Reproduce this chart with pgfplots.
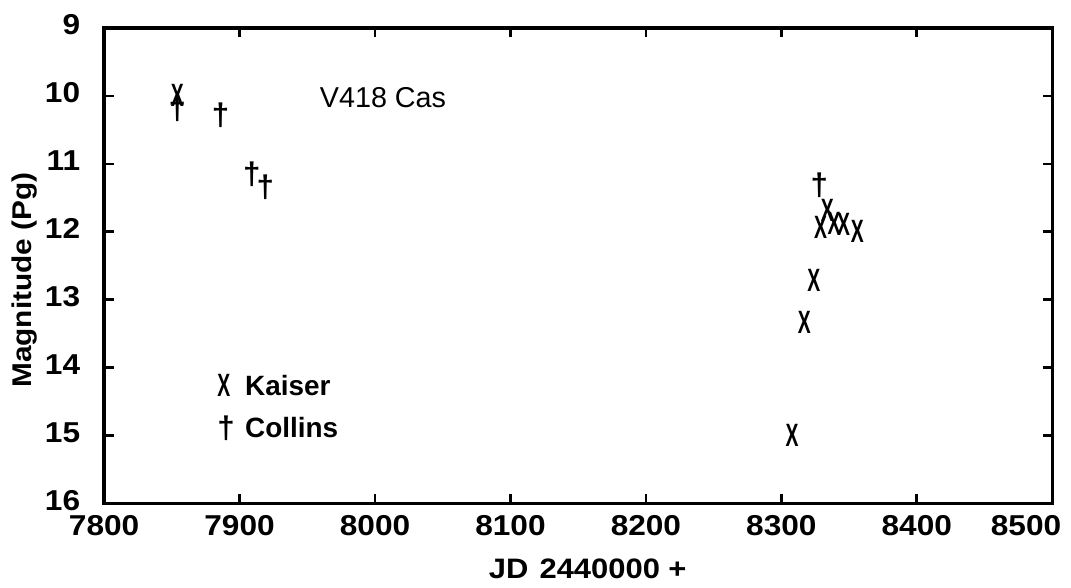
\documentclass[border=0pt]{standalone}
\usepackage{fontspec}
\setmainfont{Liberation Sans}
\newfontfamily\wide[FakeStretch=1.1]{Liberation Sans}
\usepackage{pgfplots}
\pgfplotsset{compat=1.18}

\pgfplotsset{
  kaiser/.style={only marks, mark=text, text mark as node=true,
    text mark={\scalebox{0.6}[1.0]{\fontsize{15.5}{16}\selectfont\bfseries X}},
    text mark style={inner sep=0pt}},
  collins/.style={only marks, mark=text, text mark as node=true,
    text mark={\fontsize{15}{16}\selectfont\bfseries †},
    text mark style={inner sep=0pt}},
}

\begin{document}
\begin{tikzpicture}
\begin{axis}[
  width=16cm, height=8.03cm, scale only axis,
  xmin=7800, xmax=8500, ymin=9, ymax=16, y dir=reverse,
  xtick={7800,7900,...,8400,8500},
  xticklabels={7800,7900,8000,8100,8200,8300,8400,\makebox[8.6pt][r]{8500}},
  ytick={9,10,...,16},
  tick align=inside, major tick length=4.5pt,
  axis line style={line width=1.6pt},
  every tick/.style={black, line width=1.3pt},
  /pgf/number format/assume math mode=true,
  /pgf/number format/1000 sep={},
  ticklabel style={font=\wide\fontsize{13.8}{15}\selectfont\bfseries},
  xticklabel style={yshift=-2pt},
  yticklabel style={xshift=-8pt, yshift=1.5pt},
  xlabel={JD\hspace{0.4em}2440000\hspace{0.3em}+},
  ylabel={Magnitude (Pg)},
  xlabel style={at={(axis description cs:0.51,-0.137)}, anchor=center,
    font=\wide\fontsize{13.5}{15}\selectfont\bfseries},
  ylabel style={at={(axis description cs:-0.0834,0.47)}, anchor=center,
    font=\wide\fontsize{13}{15}\selectfont\bfseries},
  legend image code/.code={\draw[#1] plot coordinates {(0pt,0pt)};},
  legend style={at={(axis description cs:0.119,0.28)}, anchor=north west,
    draw=none, fill=none, inner sep=0pt, column sep=3pt, row sep=5pt,
    nodes={inner sep=2pt},
    font=\fontsize{13.4}{15}\selectfont\bfseries},
  legend cell align=left,
  clip=false,
]
\addplot[kaiser] coordinates {
  (7854,10.0) (8308,15.0) (8317,13.33) (8324,12.71) (8329,11.93)
  (8334,11.68) (8339,11.87) (8346,11.89) (8356,11.99)
};
\addlegendentry{Kaiser}
\addplot[collins] coordinates {
  (7854,10.19) (7886,10.29) (7909,11.15) (7919,11.35) (8328,11.31)
};
\addlegendentry{Collins}
\node[anchor=west, font=\fontsize{13.8}{15}\selectfont, inner sep=0pt]
  at (axis cs:7959,10.02) {V418 Cas};
\coordinate (sw) at (axis description cs:0,0);
\coordinate (ne) at (axis description cs:1,1);
\end{axis}
\pgfresetboundingbox
\path ([shift={(-50pt,-40pt)}]sw) rectangle ([shift={(9pt,13.4pt)}]ne);
\end{tikzpicture}
\end{document}
